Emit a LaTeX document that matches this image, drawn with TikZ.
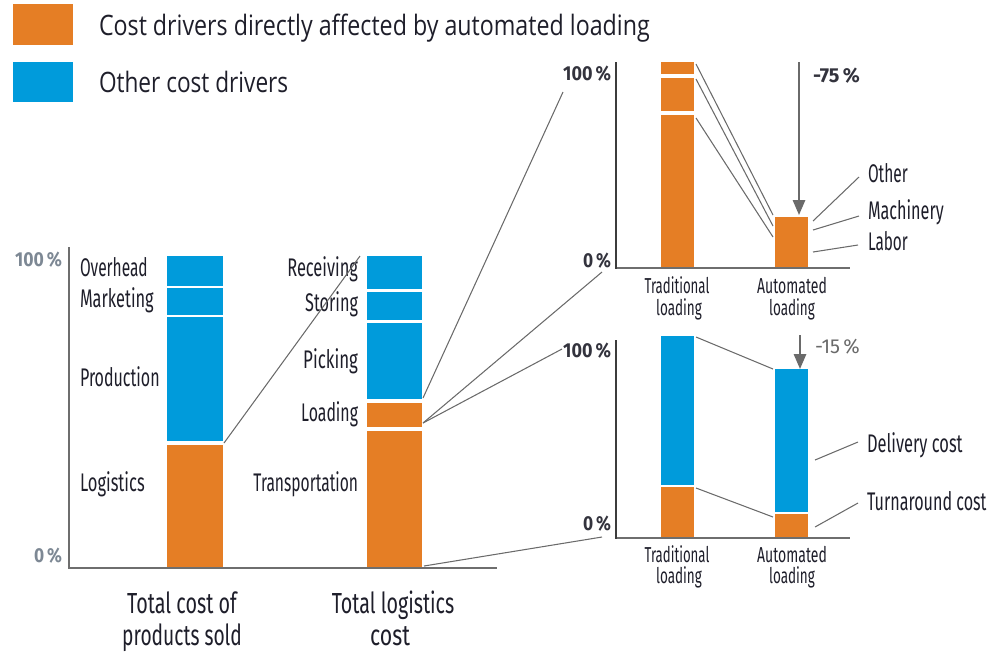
\documentclass[tikz,border=0pt]{standalone}
\usepackage{fontspec}
\setmainfont{Fira Sans}
\newfontfamily\legfont{Open Sans}
\usetikzlibrary{arrows.meta}
\definecolor{org}{HTML}{E57E25}
\definecolor{blu}{HTML}{009BDB}
\definecolor{axg}{HTML}{6E6E6E}
\definecolor{axd}{HTML}{3C3C3C}
\definecolor{lng}{HTML}{6A6A6A}
\definecolor{txt}{HTML}{1E1E2A}
\definecolor{pcg}{HTML}{7D8894}
\definecolor{pcd}{HTML}{33333D}
\newlength\fwtmp
\newcommand\fw[2]{\settowidth\fwtmp{#2}\pgfmathsetmacro\fwr{#1*0.5669/\fwtmp}\scalebox{\fwr}[1]{#2}}
\begin{document}
\begin{tikzpicture}[x=0.02cm,y=-0.02cm,
  every node/.style={inner sep=0pt,outer sep=0pt,text=txt},
  lab/.style={font=\fontsize{14.5}{16}\selectfont},
  pct/.style={font=\bfseries\fontsize{11.5}{13}\selectfont},
  xl/.style={font=\fontsize{12.3}{14}\selectfont},
  ttl/.style={font=\fontsize{16.5}{19}\selectfont},
  leg/.style={font=\legfont\fontsize{16}{19}\selectfont},
  con/.style={draw=lng,line width=0.6pt},
  arr/.style={draw=lng,line width=1.1pt,-{Triangle[width=7pt,length=8.5pt]}},
  axl/.style={draw=axg,line width=1.5pt},
  axk/.style={draw=axd,line width=1.3pt}]
\useasboundingbox (0,0) rectangle (1003,654);
% legend
\fill[org] (13,4) rectangle (73,45);
\fill[blu] (13,62) rectangle (73,102);
\node[leg,anchor=base west] (leg1) at (99,35) {\fw{553}{Cost drivers directly affected by automated loading}};
\node[leg,anchor=base west] (leg2) at (99,92) {\fw{190}{Other cost drivers}};
% chart 1 bars
\fill[blu] (167,256) rectangle (223,286);
\fill[blu] (167,287.5) rectangle (223,315);
\fill[blu] (167,317) rectangle (223,441);
\fill[org] (167,444.5) rectangle (223,567);
\fill[blu] (367,256) rectangle (422,289);
\fill[blu] (367,292) rectangle (422,320);
\fill[blu] (367,323) rectangle (422,399);
\fill[org] (367,402.5) rectangle (422,427);
\fill[org] (367,430.5) rectangle (422,567);
\draw[axl] (69,247) -- (69,568) -- (497,568);
% chart 1 labels
\node[pct,text=pcg,anchor=base east] (p100a) at (62,266) {\fw{47}{100\,\%}};
\node[pct,text=pcg,anchor=base east] (p0a) at (62,562) {\fw{28}{0\,\%}};
\node[lab,anchor=base west] (ovh) at (80,276) {\fw{68}{Overhead}};
\node[lab,anchor=base west] (mkt) at (80,307) {\fw{74}{Marketing}};
\node[lab,anchor=base west] (prd) at (80,386) {\fw{80}{Production}};
\node[lab,anchor=base west] (lgs) at (80,491) {\fw{65}{Logistics}};
\node[lab,anchor=base east] (rcv) at (358,276) {\fw{71}{Receiving}};
\node[lab,anchor=base east] (sto) at (358,311) {\fw{53}{Storing}};
\node[lab,anchor=base east] (pck) at (358,368) {\fw{55}{Picking}};
\node[lab,anchor=base east] (lod) at (358,421) {\fw{57}{Loading}};
\node[lab,anchor=base east] (trn) at (358,491) {\fw{105}{Transportation}};
\node[ttl,anchor=base] (t1a) at (182,613) {\fw{110}{Total cost of}};
\node[ttl,anchor=base] (t1b) at (182,645) {\fw{120}{products sold}};
\node[ttl,anchor=base] (t2a) at (393,613) {\fw{123}{Total logistics}};
\node[ttl,anchor=base] (t2b) at (390,645) {\fw{40}{cost}};
% top chart
\fill[org] (661,62) rectangle (694,74);
\fill[org] (661,77.5) rectangle (694,111);
\fill[org] (661,115) rectangle (694,268);
\fill[org] (775,217) rectangle (808,268);
\draw[axl] (616,268) -- (850,268);
\draw[axk] (616,62) -- (616,268.6);
\node[pct,text=pcd,anchor=base east] (p100b) at (611,80) {\fw{48}{100\,\%}};
\node[pct,text=pcd,anchor=base east] (p0b) at (611,267) {\fw{28}{0\,\%}};
\node[pct,text=pcd,anchor=base west] (m75) at (813,82) {\fw{47}{-75\,\%}};
\node[xl,anchor=base] (tl1) at (677,293) {\fw{65}{Traditional}};
\node[xl,anchor=base] (tl2) at (679,315) {\fw{46}{loading}};
\node[xl,anchor=base] (al1) at (792,293) {\fw{70}{Automated}};
\node[xl,anchor=base] (al2) at (792,315) {\fw{46}{loading}};
\node[lab,anchor=base west] (oth) at (868,182) {\fw{40}{Other}};
\node[lab,anchor=base west] (mch) at (868,219) {\fw{76}{Machinery}};
\node[lab,anchor=base west] (lab) at (868,250) {\fw{40}{Labor}};
% bottom chart
\fill[blu] (661,336) rectangle (694,485);
\fill[org] (661,487) rectangle (694,538);
\fill[blu] (775,369) rectangle (808,512);
\fill[org] (775,514) rectangle (808,538);
\draw[axl] (616,538) -- (850,538);
\draw[axk] (616,340) -- (616,538.6);
\node[pct,text=pcd,anchor=base east] (p100c) at (611,357) {\fw{48}{100\,\%}};
\node[pct,text=pcd,anchor=base east] (p0c) at (611,530) {\fw{28}{0\,\%}};
\node[pct,text=lng,anchor=base west,font=\fontsize{11.5}{13}\selectfont] (m15) at (815,353) {\fw{45}{-15\,\%}};
\node[xl,anchor=base] (tl3) at (677,562) {\fw{65}{Traditional}};
\node[xl,anchor=base] (tl4) at (679,583) {\fw{46}{loading}};
\node[xl,anchor=base] (al3) at (792,562) {\fw{70}{Automated}};
\node[xl,anchor=base] (al4) at (792,583) {\fw{46}{loading}};
\node[lab,anchor=base west] (dlv) at (867,452) {\fw{96}{Delivery cost}};
\node[lab,anchor=base west] (tac) at (867,510) {\fw{120}{Turnaround cost}};
% connector anchor points
\coordinate (logTR) at (224,443);
\coordinate (recTL) at (360,256);
\coordinate (pckBR) at (423,398);
\coordinate (lodR) at (423,423);
\coordinate (trnBR) at (424,566);
\coordinate (t100) at (563,92);
\coordinate (t0) at (602,272);
\coordinate (b100) at (562,349);
\coordinate (b0) at (602,537);
\coordinate (ta) at (696,64);
\coordinate (tb) at (696,79);
\coordinate (tc) at (696,118);
\coordinate (aa) at (773,215);
\coordinate (ab) at (773,226);
\coordinate (ac) at (773,237);
\coordinate (oa) at (813,221);
\coordinate (ob) at (859,177);
\coordinate (ma) at (813,230);
\coordinate (mb) at (859,216);
\coordinate (la) at (813,252);
\coordinate (lb) at (858,245);
\coordinate (bta) at (696,337);
\coordinate (btb) at (696,488);
\coordinate (baa) at (773,369);
\coordinate (bab) at (773,517);
\coordinate (da) at (815,460);
\coordinate (db) at (858,442);
\coordinate (ra) at (815,527);
\coordinate (rb) at (858,503);
\coordinate (ar1s) at (799,62);
\coordinate (ar1e) at (799,215);
\coordinate (ar2s) at (800,335);
\coordinate (ar2e) at (800,369);
% connectors
\draw[con] (logTR) -- (recTL);
\draw[con] (pckBR) -- (t100);
\draw[con] (lodR) -- (t0);
\draw[con] (lodR) -- (b100);
\draw[con] (trnBR) -- (b0);
\draw[con] (ta) -- (aa);
\draw[con] (tb) -- (ab);
\draw[con] (tc) -- (ac);
\draw[con] (oa) -- (ob);
\draw[con] (ma) -- (mb);
\draw[con] (la) -- (lb);
\draw[con] (bta) -- (baa);
\draw[con] (btb) -- (bab);
\draw[con] (da) -- (db);
\draw[con] (ra) -- (rb);
\draw[arr] (ar1s) -- (ar1e);
\draw[arr] (ar2s) -- (ar2e);
\end{tikzpicture}
\end{document}
